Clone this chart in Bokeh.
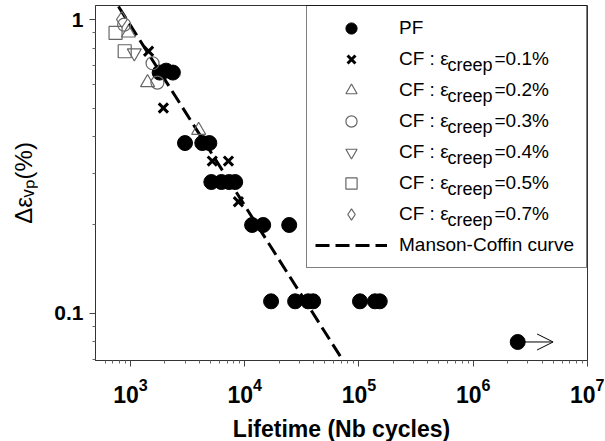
import math
from bokeh.plotting import figure
from bokeh.models import (Range1d, FixedTicker, Legend, LegendItem, Label,
                          Arrow, OpenHead)
from bokeh.core.properties import value
from bokeh.embed import file_html
from bokeh.resources import INLINE

# ---------------- data ----------------
pf_cycles = [1800, 2050, 2350, 3000, 4250, 4900, 5100, 6250, 7300, 8250,
             11600, 14500, 24500, 17000, 27600, 35900, 39700, 102000,
             138000, 152000, 2450000]
pf_strain = [0.66, 0.67, 0.66, 0.38, 0.38, 0.38, 0.28, 0.28, 0.28, 0.28,
             0.20, 0.20, 0.20, 0.11, 0.11, 0.11, 0.11, 0.11, 0.11, 0.11, 0.08]

cf01_cycles = [1440, 1940, 5200, 7200, 8800]
cf01_strain = [0.78, 0.50, 0.33, 0.33, 0.24]
cf02_cycles = [960, 1410, 3950]
cf02_strain = [0.90, 0.61, 0.42]
cf03_cycles = [880, 1560, 1720]
cf03_strain = [0.96, 0.71, 0.61]
cf04_cycles = [1080]
cf04_strain = [0.77]
cf05_cycles = [740, 890]
cf05_strain = [0.90, 0.78]
cf07_cycles = [840]
cf07_strain = [1.00]

mc_cycles = [785, 72400]
mc_strain = [1.107, 0.0692]

runout_cycles = [2450000, 5000000]
runout_strain = 0.08

x_major = [1e3, 1e4, 1e5, 1e6, 1e7]
x_minor = [m * 10 ** e for e in range(2, 7) for m in range(2, 10) if m * 10 ** e > 550]
y_major = [0.1, 1.0]
y_minor = [0.07, 0.08, 0.09, 0.2, 0.3, 0.4, 0.5, 0.6, 0.7, 0.8, 0.9]
y_tick_labels = {0.1: "0.1", 1.0: "1"}

x_title = "Lifetime (Nb cycles)"
y_title = "Δεᵥₚ(%)"

legend_main = ["PF", "CF : ε", "CF : ε", "CF : ε", "CF : ε", "CF : ε",
               "CF : ε", "Manson-Coffin curve"]
legend_sub = ["", "creep", "creep", "creep", "creep", "creep", "creep", ""]
legend_tail = ["", "=0.1%", "=0.2%", "=0.3%", "=0.4%", "=0.5%", "=0.7%", ""]

FONT = "Liberation Sans"
OPEN = "#666666"

# ---------------- layout ----------------
X0, X1 = 494, 1.0e7
Y0, Y1 = 0.0692, 1.116
FL, FT = 95, 5          # frame left / top on the canvas
FW, FH = 492, 355

p = figure(frame_width=FW, frame_height=FH,
           x_axis_type="log", y_axis_type="log",
           x_range=Range1d(X0, X1), y_range=Range1d(Y0, Y1),
           output_backend="svg", toolbar_location=None,
           min_border_left=FL, min_border_right=17,
           min_border_top=FT, min_border_bottom=80)
p.background_fill_color = "white"
p.border_fill_color = "white"
p.outline_line_color = "#333333"
p.outline_line_width = 1
p.xgrid.visible = False
p.ygrid.visible = False


def sx(px):
    """canvas x pixel -> x data value (for placing text pieces)"""
    lx0, lx1 = math.log10(X0), math.log10(X1)
    return 10 ** (lx0 + (px - FL) * (lx1 - lx0) / FW)


def sy(py):
    """canvas y pixel -> y data value (for placing text pieces)"""
    ly0, ly1 = math.log10(Y0), math.log10(Y1)
    return 10 ** (ly1 - (py - FT) * (ly1 - ly0) / FH)


# axes
p.xaxis.ticker = FixedTicker(ticks=x_major, minor_ticks=x_minor)
p.yaxis.ticker = FixedTicker(ticks=y_major, minor_ticks=y_minor)
p.yaxis.major_label_overrides = y_tick_labels
for ax in (p.xaxis, p.yaxis):
    ax.axis_line_color = "#333333"
    ax.major_tick_line_color = "#444444"
    ax.minor_tick_line_color = "#666666"
    ax.major_tick_out = 6
    ax.major_tick_in = 0
    ax.minor_tick_out = 3
    ax.minor_tick_in = 0
    ax.major_label_text_font = FONT
    ax.major_label_text_font_style = "bold"
    ax.major_label_text_color = "black"
    ax.axis_label_text_font = FONT
    ax.axis_label_text_color = "black"
p.xaxis.major_label_text_font_size = "23px"
p.yaxis.major_label_text_font_size = "21px"
p.xaxis.major_label_standoff = 11
p.yaxis.major_label_standoff = 6
p.xaxis.axis_label = x_title
p.xaxis.axis_label_text_font_style = "bold"
p.xaxis.axis_label_text_font_size = "23px"
p.xaxis.axis_label_standoff = 10
p.yaxis.axis_label = y_title
p.yaxis.axis_label_text_font_style = "normal"
p.yaxis.axis_label_text_font_size = "24px"
p.yaxis.axis_label_standoff = 14

# Manson-Coffin curve
r_mc = p.line(mc_cycles, mc_strain, line_color="black", line_width=3,
              line_dash="14 6")

# data
r_pf = p.scatter(pf_cycles, pf_strain, marker="circle", size=15,
                 fill_color="black", line_color="black")
r_01 = p.scatter(cf01_cycles, cf01_strain, marker="x", size=13,
                 line_color="black", line_width=3)
r_02 = p.scatter(cf02_cycles, cf02_strain, marker="triangle", size=14,
                 fill_color=None, line_color=OPEN, line_width=1.2)
r_03 = p.scatter(cf03_cycles, cf03_strain, marker="circle", size=13,
                 fill_color=None, line_color=OPEN, line_width=1.2)
r_04 = p.scatter(cf04_cycles, cf04_strain, marker="inverted_triangle", size=14,
                 fill_color=None, line_color=OPEN, line_width=1.2)
r_05 = p.scatter(cf05_cycles, cf05_strain, marker="square", size=13,
                 fill_color=None, line_color=OPEN, line_width=1.2)
r_07 = p.scatter(cf07_cycles, cf07_strain, marker="diamond", size=16,
                 fill_color=None, line_color=OPEN, line_width=1.2)

# run-out arrow
p.add_layout(Arrow(end=OpenHead(size=16, line_width=1, line_color="black"),
                   x_start=runout_cycles[0], y_start=runout_strain,
                   x_end=runout_cycles[1], y_end=runout_strain,
                   line_width=1, line_color="black"))

# legend
renderers = [r_pf, r_01, r_02, r_03, r_04, r_05, r_07, r_mc]
items = [LegendItem(label=value(t), renderers=[r]) for t, r in zip(legend_main, renderers)]
PAD, GW, GH, SP, STAND, LW = 8, 72, 28, 3, 12, 179
legend = Legend(items=items, location="top_right", margin=0, padding=PAD,
                spacing=SP, glyph_width=GW, glyph_height=GH, label_height=GH,
                label_width=LW, label_standoff=STAND,
                label_text_font=FONT, label_text_font_size="19px",
                label_text_baseline="alphabetic", label_text_color="black",
                border_line_color="black", border_line_width=1,
                background_fill_alpha=0)
p.add_layout(legend)

legend_w = PAD * 2 + GW + STAND + LW
text_px0 = FL + FW - legend_w + PAD + GW + STAND       # canvas x where legend text starts
for i, (sub, tail) in enumerate(zip(legend_sub, legend_tail)):
    if not sub:
        continue
    base_py = FT + PAD + GH / 2 + i * (GH + SP)
    p.add_layout(Label(x=sx(text_px0 + 47), y=sy(base_py + 6),
                       text=sub, text_font=FONT, text_font_size="18px",
                       text_baseline="alphabetic", text_align="left", text_color="black"))
    p.add_layout(Label(x=sx(text_px0 + 94), y=sy(base_py),
                       text=tail, text_font=FONT, text_font_size="19px",
                       text_baseline="alphabetic", text_align="left", text_color="black"))

open("out.html", "w").write(file_html(p, INLINE))
